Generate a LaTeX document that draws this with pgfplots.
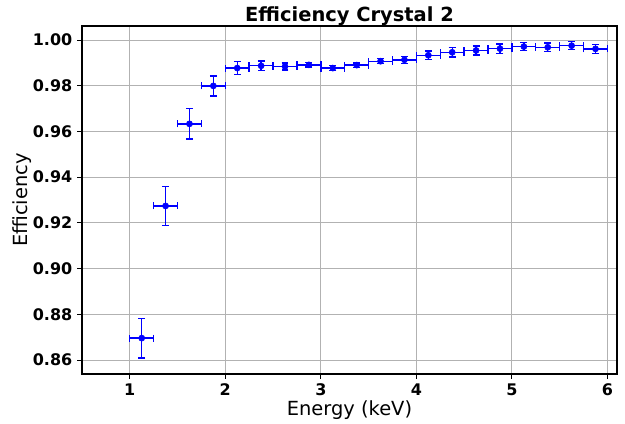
\documentclass[border=0pt]{standalone}
\usepackage{pgfplots}
\pgfplotsset{compat=1.18}
\usepackage{fontspec}
\setmainfont{DejaVu Sans}
\begin{document}
\begin{tikzpicture}
\begin{axis}[
  at={(0,0)}, anchor=south west,
  scale only axis, width=385.2pt, height=250.56pt,
  xmin=0.5, xmax=6.1, ymin=0.8539, ymax=1.0061,
  xtick={1,2,3,4,5,6},
  ytick={0.86,0.88,0.90,0.92,0.94,0.96,0.98,1.00},
  /pgf/number format/assume math mode=true,
  yticklabel style={/pgf/number format/.cd, fixed, fixed zerofill, precision=2},
  ticklabel style={font=\bfseries\fontsize{11.5}{12}\selectfont},
  tick align=outside, tick pos=left,
  major tick length=3.5pt,
  tick style={black, line width=0.6pt},
  grid=major, grid style={color=black!30, line width=0.6pt},
  axis line style={black, line width=0.8pt},
  title={\bfseries\fontsize{14}{16}\selectfont Efficiency Crystal 2},
  title style={yshift=-9pt},
  xlabel={\fontsize{14}{16}\selectfont Energy (keV)},
  ylabel={\fontsize{14}{16}\selectfont Efficiency},
  xlabel style={yshift=3pt},
  ylabel style={yshift=-6pt},
  error bars/error bar style={draw=blue, line width=1pt},
  error bars/error mark options={rotate=90, draw=blue, line width=1pt, mark size=2.5pt},
]
\addplot+[draw=blue, fill=blue, only marks, mark=*, mark size=2.2pt, mark options={draw=blue, fill=blue},
  error bars/.cd, x dir=both, x explicit, y dir=both, y explicit]
coordinates {
(1.125,0.8696) +- (0.125,0.0087)
(1.375,0.9274) +- (0.125,0.0085)
(1.625,0.9633) +- (0.125,0.0066)
(1.875,0.9799) +- (0.125,0.0044)
(2.125,0.9877) +- (0.125,0.0029)
(2.375,0.9887) +- (0.125,0.0021)
(2.625,0.9884) +- (0.125,0.0015)
(2.875,0.9891) +- (0.125,0.0010)
(3.125,0.9877) +- (0.125,0.0010)
(3.375,0.9890) +- (0.125,0.0010)
(3.625,0.9907) +- (0.125,0.0011)
(3.875,0.9913) +- (0.125,0.0015)
(4.125,0.9933) +- (0.125,0.0018)
(4.375,0.9946) +- (0.125,0.0020)
(4.625,0.9954) +- (0.125,0.0020)
(4.875,0.9962) +- (0.125,0.0020)
(5.125,0.9971) +- (0.125,0.0018)
(5.375,0.9968) +- (0.125,0.0018)
(5.625,0.9975) +- (0.125,0.0018)
(5.875,0.9961) +- (0.125,0.0020)
};
\end{axis}
\pgfresetboundingbox
\path (-59.04pt,-36pt) rectangle (390.96pt,269.28pt);
\end{tikzpicture}
\end{document}
